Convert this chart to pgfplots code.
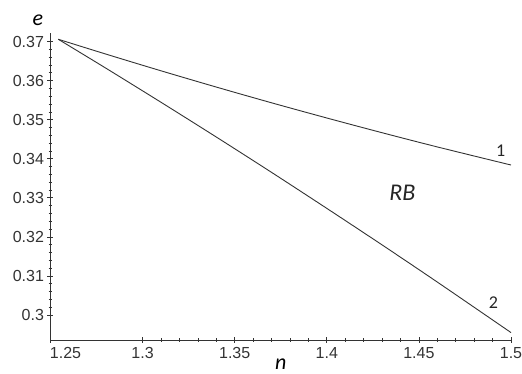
\documentclass[border=0pt]{standalone}
\usepackage{fontspec}
\setmainfont{Liberation Sans}
\newfontfamily\carl{Carlito}
\usepackage{pgfplots}
\pgfplotsset{compat=1.18}
\begin{document}
\begin{tikzpicture}
\begin{axis}[
  name=ax,
  scale only axis,
  width=460.5pt, height=307pt,
  xmin=1.25, xmax=1.5,
  ymin=0.2936, ymax=0.3722,
  axis lines=left,
  axis line style={-, color=black!80, line width=0.9pt},
  xtick={1.3,1.35,1.4,1.45,1.5},
  xticklabels={1.3,1.35,1.4,1.45,1.5},
  extra x ticks={1.25},
  extra x tick labels={1.25},
  extra x tick style={xticklabel style={xshift=15pt}},
  ytick={0.3,0.31,0.32,0.33,0.34,0.35,0.36,0.37},
  yticklabels={0.3,0.31,0.32,0.33,0.34,0.35,0.36,0.37},
  minor x tick num=4,
  minor y tick num=4,
  tick align=center,
  major tick length=6pt,
  minor tick length=3.5pt,
  tick style={color=black!80, line width=0.7pt},
  ticklabel style={font=\fontsize{16}{19}\selectfont, text=black!80},
  xticklabel style={yshift=-1pt},
  every axis y label/.style={at={(axis description cs:0,1)}, anchor=center, xshift=-12.5pt, yshift=12.5pt},
  every axis x label/.style={at={(axis description cs:0.5,0)}, anchor=center, yshift=-24pt},
  xlabel={\carl\itshape\fontsize{22}{24}\selectfont n},
  ylabel={\carl\itshape\fontsize{22}{24}\selectfont e},
  clip=false,
]
\addplot[color=black!80, line width=0.9pt, smooth] coordinates {
  (1.2542,0.3706) (1.28,0.36681) (1.31,0.36252) (1.34,0.35836) (1.37,0.35433)
  (1.40,0.35044) (1.43,0.34667) (1.46,0.34303) (1.5,0.3384)
};
\addplot[color=black!80, line width=0.9pt, smooth] coordinates {
  (1.2542,0.3706) (1.28,0.36321) (1.31,0.35446) (1.34,0.34557) (1.37,0.33652)
  (1.40,0.32730) (1.43,0.31795) (1.46,0.30843) (1.5,0.2955)
};
\node[font=\carl\fontsize{18}{20}\selectfont, text=black!85] at (axis cs:1.4944,0.3421) {1};
\node[font=\carl\fontsize{18}{20}\selectfont, text=black!85] at (axis cs:1.4904,0.30315) {2};
\node[font=\carl\itshape\fontsize{24}{26}\selectfont, text=black!85] at (axis cs:1.441,0.33117) {RB};
\end{axis}
\pgfresetboundingbox
\path[use as bounding box] ([shift={(-50.5pt,-34pt)}]ax.south west) rectangle ([shift={(11pt,33pt)}]ax.north east);
\end{tikzpicture}
\end{document}
